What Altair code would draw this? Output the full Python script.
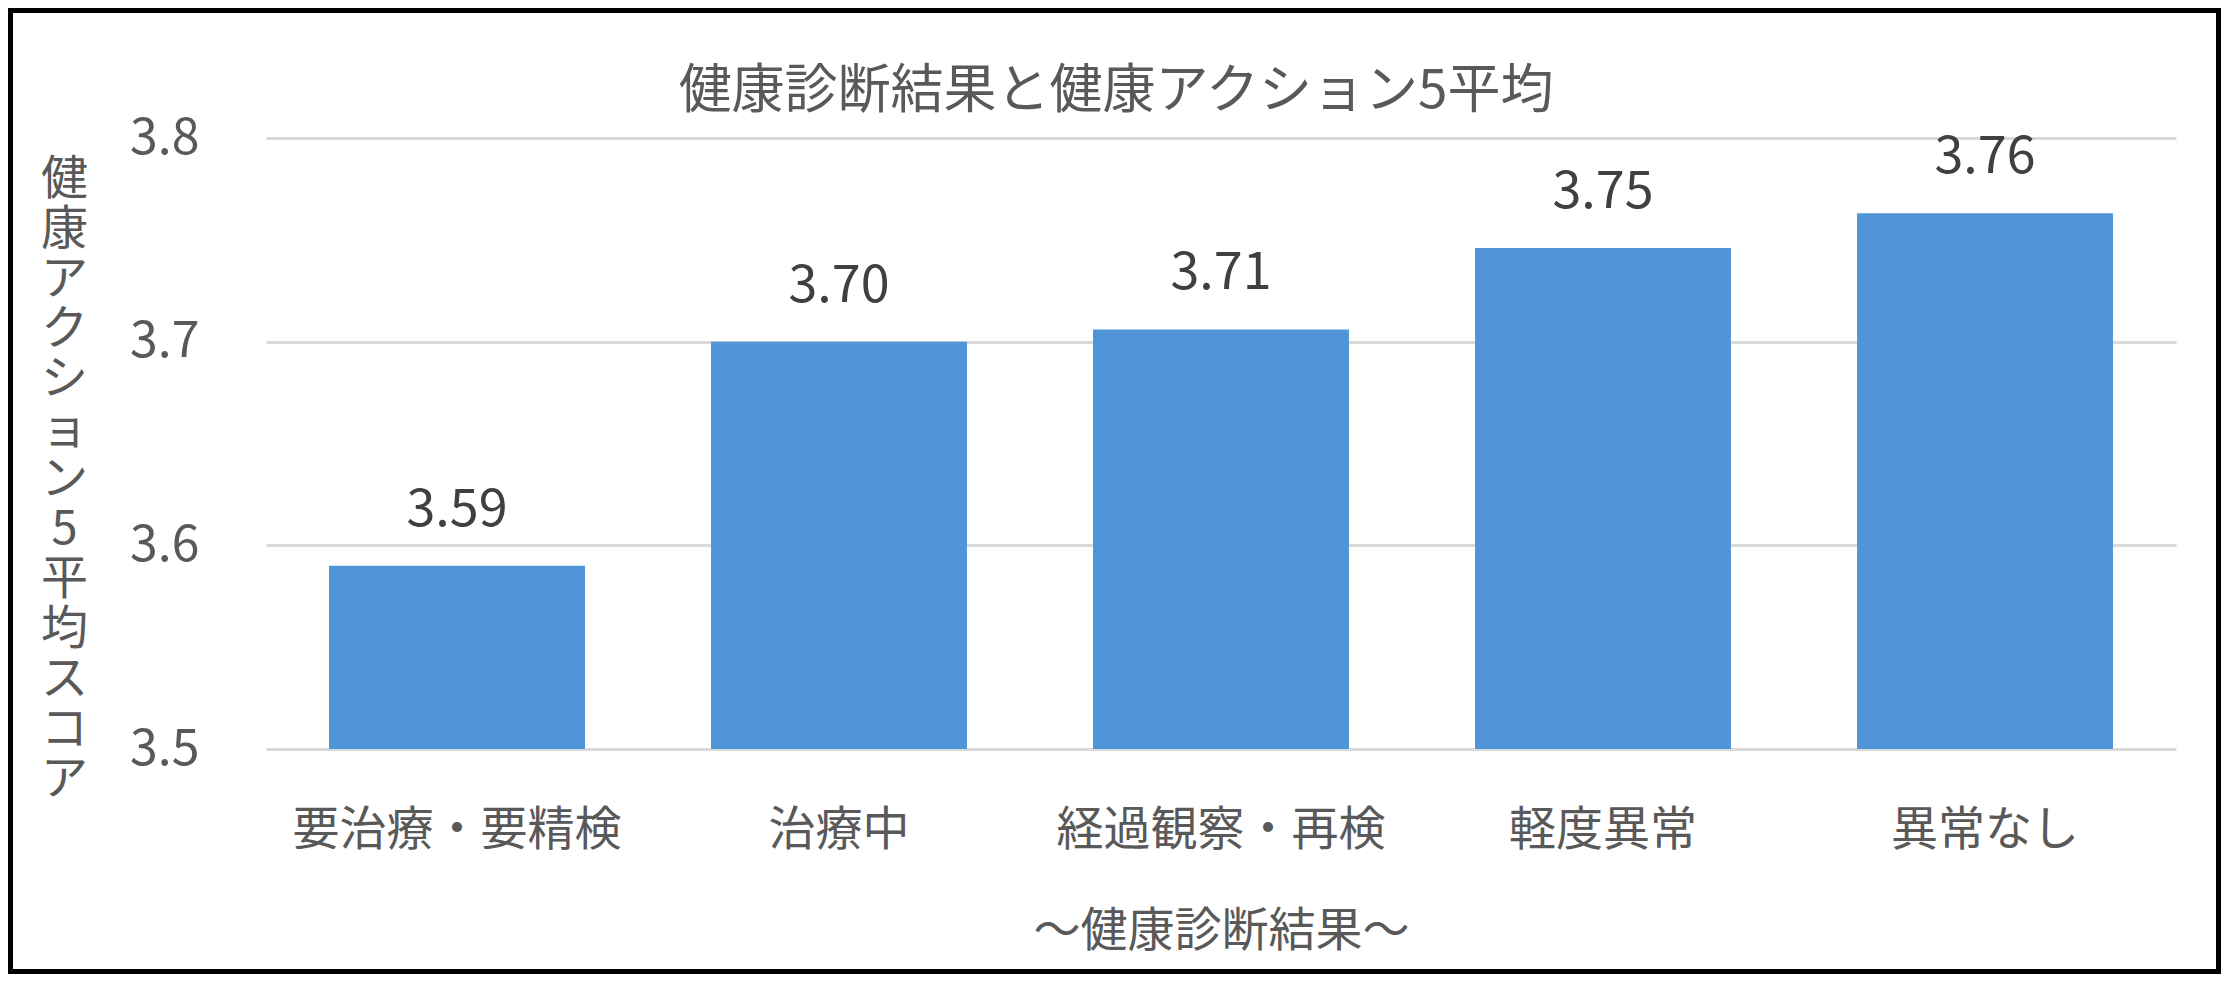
import altair as alt
import pandas as pd


# values
categories = ['要治療・要精検', '治療中', '経過観察・再検', '軽度異常', '異常なし']
scores = [3.59, 3.70, 3.706, 3.746, 3.763]

chart_title = '健康診断結果と健康アクション5平均'
y_title = '健康アクション5平均スコア'
x_title = '～健康診断結果～'
y_ticks = [3.5, 3.6, 3.7, 3.8]

FONT = 'Noto Sans CJK JP'
TEXT = '#595959'
W, H = 1910, 611
PAD = {'left': 258, 'top': 130, 'right': 45, 'bottom': 225}

data = pd.DataFrame({'category': categories, 'score': scores})

base = alt.Chart(data).encode(
    x=alt.X(
        'category:N',
        sort=categories,
        scale=alt.Scale(paddingInner=0.33, paddingOuter=0.165),
        axis=alt.Axis(
            title=x_title, labelAngle=0, ticks=False, domain=False, grid=False,
            labelFont=FONT, labelFontSize=47, labelColor=TEXT, labelPadding=58,
            labelLimit=0,
            titleFont=FONT, titleFontSize=47, titleColor=TEXT, titleFontWeight='normal',
            titlePadding=55,
        ),
    ),
    y=alt.Y(
        'score:Q',
        scale=alt.Scale(domain=[3.5, 3.8], nice=False, zero=False),
        axis=alt.Axis(
            values=y_ticks, format='.1f', ticks=False, domain=False,
            gridColor='#D9D9D9', gridWidth=3,
            labelFont=FONT, labelFontSize=50, labelColor=TEXT, labelPadding=67,
            # vertical (stacked) axis title, one character per line
            title=list(y_title), titleAngle=0, titleX=-202, titleY=18,
            titleAlign='center', titleBaseline='top', titleLineHeight=50,
            titleFont=FONT, titleFontSize=47, titleColor=TEXT, titleFontWeight='normal',
        ),
    ),
)

bars = base.mark_bar(color='#5095D8', clip=True)

labels = base.mark_text(
    baseline='alphabetic', dy=-40, font=FONT, fontSize=52, color='#404040'
).encode(text=alt.Text('score:Q', format='.2f'))

title = alt.Chart(pd.DataFrame({'t': [chart_title]})).mark_text(
    font=FONT, fontSize=53, color=TEXT, baseline='middle', align='center'
).encode(text='t:N', x=alt.value(850), y=alt.value(-46))

# outer frame like the spreadsheet chart border
frame = alt.Chart(pd.DataFrame({'t': [0]})).mark_rect(
    fill=None, stroke='black', strokeWidth=5
).encode(
    x=alt.value(-PAD['left'] + 2.5), x2=alt.value(W + PAD['right'] - 2.5),
    y=alt.value(-PAD['top'] + 2.5), y2=alt.value(H + PAD['bottom'] - 2.5),
)

chart = alt.layer(bars, labels, title, frame).properties(
    width=W, height=H,
    padding=PAD,
    autosize=alt.AutoSizeParams(type='none'),
    background='white',
).configure_view(
    stroke=None,
)

chart.save('out.html', embed_options={'renderer': 'svg', 'actions': False})
